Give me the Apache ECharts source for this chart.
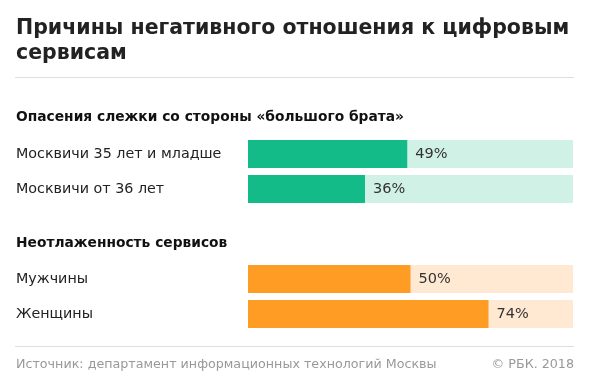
<!DOCTYPE html>
<html>
<head>
<meta charset="utf-8">
<script src="https://cdn.jsdelivr.net/npm/echarts@6/dist/echarts.min.js"></script>
<style>
html,body{margin:0;padding:0;background:#fff;}
#c{width:590px;height:382px;}
</style>
</head>
<body>
<div id="c"></div>
<script>
var titleText = "Причины негативного отношения к цифровым\nсервисам";
var group1Title = "Опасения слежки со стороны «большого брата»";
var group1Categories = ["Москвичи 35 лет и младше", "Москвичи от 36 лет"];
var group1Values = [49, 36];
var group2Title = "Неотлаженность сервисов";
var group2Categories = ["Мужчины", "Женщины"];
var group2Values = [50, 74];
var sourceText = "Источник: департамент информационных технологий Москвы";
var creditText = "© РБК. 2018";

var FONT = "'DejaVu Sans', sans-serif";
var chart = echarts.init(document.getElementById('c'), null, {renderer: 'canvas'});

function makeSeries(idx, values, color, bg) {
  return {
    type: 'bar',
    xAxisIndex: idx, yAxisIndex: idx,
    data: values,
    barWidth: 28,
    itemStyle: {color: color},
    showBackground: true,
    backgroundStyle: {color: bg},
    label: {show: true, position: 'right', distance: 8, formatter: '{c}%',
      fontFamily: FONT, fontSize: 14.5, color: '#333'},
    silent: true, animation: false
  };
}
function xAx(idx) {
  return {gridIndex: idx, type: 'value', min: 0, max: 100, show: false};
}
function yAx(idx, cats) {
  return {gridIndex: idx, type: 'category', data: cats, inverse: true,
    axisLine: {show: false}, axisTick: {show: false}, splitLine: {show: false},
    axisLabel: {align: 'left', margin: 232, fontFamily: FONT, fontSize: 14.3, color: '#222'}};
}

chart.setOption({
  animation: false,
  backgroundColor: '#fff',
  title: [
    {text: titleText, left: 16, top: 16, padding: 0,
      textStyle: {fontFamily: FONT, fontSize: 20.5, fontWeight: 'bold', color: '#222', lineHeight: 25}},
    {text: group1Title, left: 16, top: 110, padding: 0,
      textStyle: {fontFamily: FONT, fontSize: 13.8, fontWeight: 'bold', color: '#111'}},
    {text: group2Title, left: 16, top: 236, padding: 0,
      textStyle: {fontFamily: FONT, fontSize: 13.8, fontWeight: 'bold', color: '#111'}},
    {text: sourceText, left: 16, top: 358, padding: 0,
      textStyle: {fontFamily: FONT, fontSize: 12.7, fontWeight: 'normal', color: '#999'}},
    {text: creditText, right: 16, top: 358, padding: 0,
      textStyle: {fontFamily: FONT, fontSize: 12.7, fontWeight: 'normal', color: '#999'}}
  ],
  graphic: [
    {type: 'line', shape: {x1: 15, y1: 77.5, x2: 574, y2: 77.5}, style: {stroke: '#ddd', lineWidth: 1}},
    {type: 'line', shape: {x1: 15, y1: 346.5, x2: 574, y2: 346.5}, style: {stroke: '#ddd', lineWidth: 1}}
  ],
  grid: [
    {left: 248, right: 17, top: 136.5, height: 70},
    {left: 248, right: 17, top: 261.5, height: 70}
  ],
  xAxis: [xAx(0), xAx(1)],
  yAxis: [yAx(0, group1Categories), yAx(1, group2Categories)],
  series: [
    makeSeries(0, group1Values, '#13bb88', '#d0f1e6'),
    makeSeries(1, group2Values, '#ff9c24', '#ffe9d2')
  ]
});
</script>
</body>
</html>
